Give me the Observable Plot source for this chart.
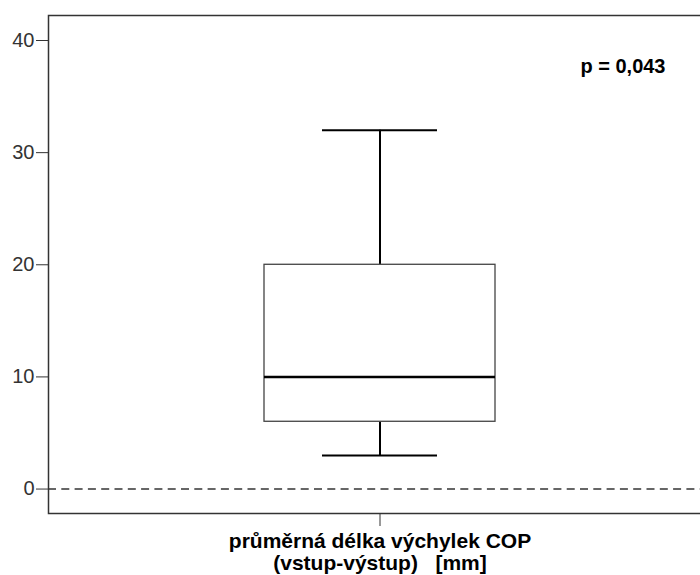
<!DOCTYPE html>
<html>
<head>
<meta charset="utf-8">
<script src="https://cdn.jsdelivr.net/npm/d3@7"></script>
<script src="https://cdn.jsdelivr.net/npm/@observablehq/plot@0.6"></script>
<style>
  html, body { margin: 0; padding: 0; background: #fff; overflow: hidden; }
  svg { font-family: "Liberation Sans", Arial, sans-serif; }
</style>
</head>
<body>
<div id="chart"></div>
<script>
// Data
const categories = ["průměrná délka výchylek COP\n(vstup-výstup)   [mm]"];
const whiskerLow = [3];
const q1 = [6];
const median = [10];
const q3 = [20];
const whiskerHigh = [32];
const yTicks = [0, 10, 20, 30, 40];
const yDomain = [-2.18, 42.23];
const pLabel = ["p = 0,043"];
const refLine = [0];

const rows = categories.map((c, i) => ({
  cat: c, lo: whiskerLow[i], q1: q1[i], med: median[i], q3: q3[i], hi: whiskerHigh[i]
}));

const chart = Plot.plot({
  width: 700,
  height: 575,
  marginTop: 15,
  marginLeft: 48,
  marginRight: -10,
  marginBottom: 62,
  style: { fontFamily: "'Liberation Sans', Arial, sans-serif", overflow: "hidden" },
  x: { domain: categories, padding: 0.4825, label: null },
  y: { domain: yDomain, label: null },
  marks: [
    Plot.ruleY(refLine, { stroke: "#666", strokeWidth: 2, strokeDasharray: "8,5.3" }),
    Plot.ruleX(rows, { x: "cat", y1: "lo", y2: "q1", stroke: "#000", strokeWidth: 2 }),
    Plot.ruleX(rows, { x: "cat", y1: "q3", y2: "hi", stroke: "#000", strokeWidth: 2 }),
    Plot.barY(rows, { x: "cat", y1: "q1", y2: "q3", fill: "#fff", stroke: "#444", strokeWidth: 1.3 }),
    Plot.tickY(rows, { x: "cat", y: "med", stroke: "#000", strokeWidth: 2.5 }),
    Plot.tickY(rows, { x: "cat", y: "lo", stroke: "#000", strokeWidth: 2, insetLeft: 58, insetRight: 58 }),
    Plot.tickY(rows, { x: "cat", y: "hi", stroke: "#000", strokeWidth: 2, insetLeft: 58, insetRight: 58 }),
    Plot.frame({ stroke: "#333", strokeWidth: 1.5 }),
    Plot.axisY({
      ticks: yTicks, tickSize: 12, tickPadding: 2, fontSize: 20,
      stroke: "#333", fill: "#333", tickFormat: d => String(d), label: null
    }),
    Plot.axisX({
      tickSize: 13, tickPadding: 6, fontSize: 21, fontWeight: "bold",
      stroke: "#333", fill: "#000", lineHeight: 1.05, label: null
    }),
    Plot.text(pLabel, {
      text: d => d, frameAnchor: "top-right", textAnchor: "end",
      dx: -45, dy: 43.6, fontSize: 20, fontWeight: "bold", fill: "#000"
    })
  ]
});
document.getElementById("chart").appendChild(chart);
</script>
</body>
</html>
